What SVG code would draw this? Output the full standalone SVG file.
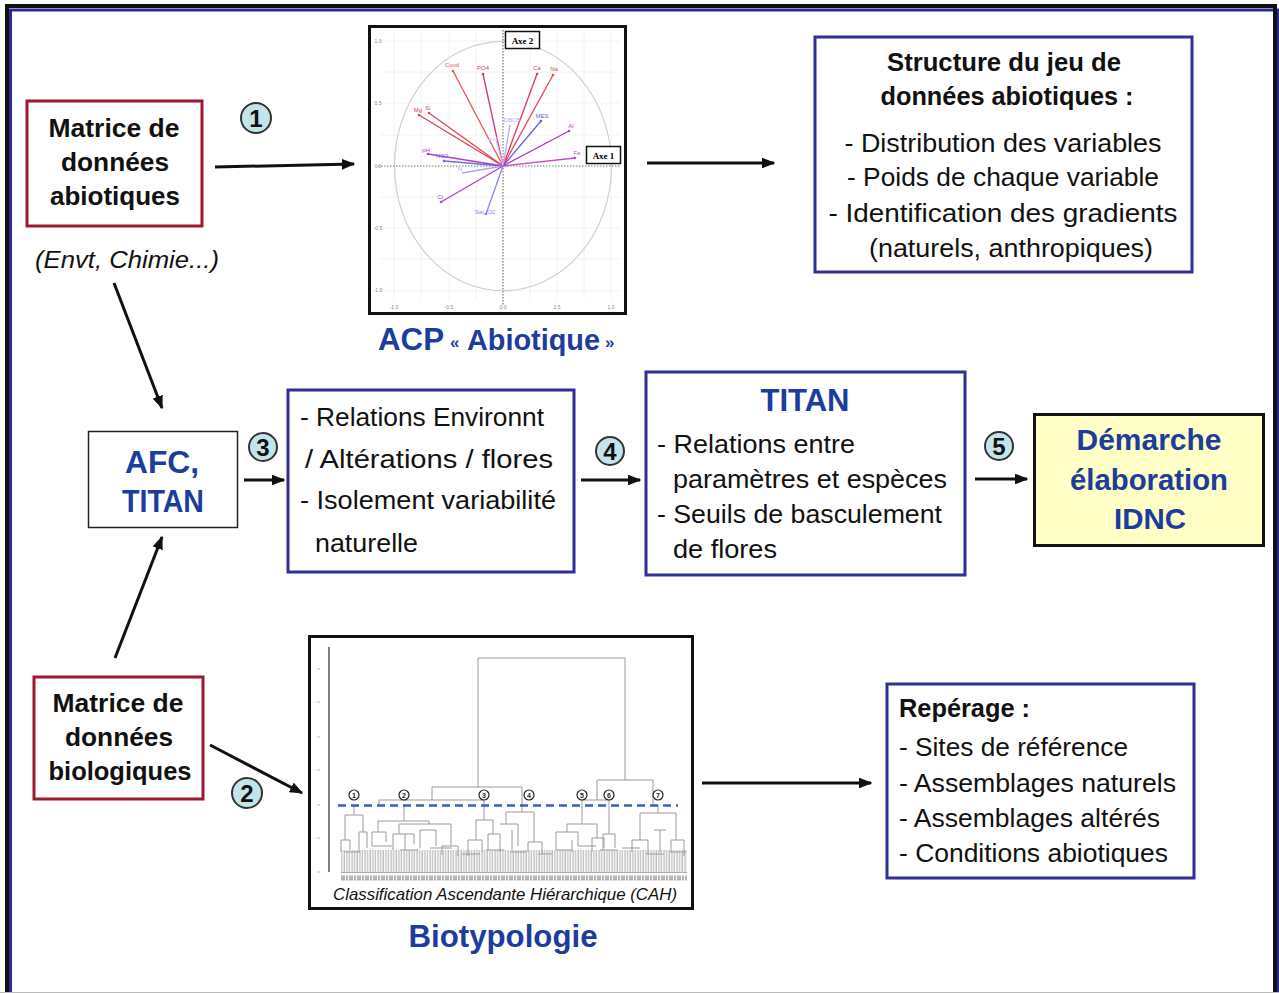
<svg xmlns="http://www.w3.org/2000/svg" width="1279" height="993" viewBox="0 0 1279 993">
<style>
.bt{font-family:"Liberation Sans",Arial,sans-serif;font-weight:bold;fill:#111}
.rt{font-family:"Liberation Sans",Arial,sans-serif;fill:#111}
.bl{font-family:"Liberation Sans",Arial,sans-serif;font-weight:bold;fill:#1C3C9E}
.num{font-family:"Liberation Sans",Arial,sans-serif;font-weight:bold;fill:#111;font-size:24px;text-anchor:middle}
.circ{fill:#C4E4EC;stroke:#333;stroke-width:2}
.redbox{fill:#fff;stroke:#A0182E;stroke-width:3}
.bluebox{fill:#fff;stroke:#2F2F96;stroke-width:3}
.arr{stroke:#111;stroke-width:3;fill:none;marker-end:url(#ah)}
.vec{stroke-width:1.3;fill:none}
.pl{font-family:"Liberation Sans",Arial,sans-serif;font-size:6px}
.tick{font-family:"Liberation Sans",Arial,sans-serif;font-size:5px;fill:#888}
.dg{stroke:#9a9a9a;stroke-width:1;fill:none}
.cn{fill:#fff;stroke:#222;stroke-width:1.2}
.cnt{font-family:"Liberation Sans",Arial,sans-serif;font-weight:bold;font-size:7px;text-anchor:middle;fill:#222}
</style>
<defs>
<marker id="ah" viewBox="0 0 10 8" refX="9" refY="4" markerWidth="4.5" markerHeight="3.6" orient="auto" markerUnits="strokeWidth">
<path d="M0 0 L10 4 L0 8 Z" fill="#111"/>
</marker>
<pattern id="leaf" width="2.6" height="30" patternUnits="userSpaceOnUse">
<line x1="1" y1="0" x2="1" y2="30" stroke="#a0a0a0" stroke-width="0.9"/>
</pattern>
</defs>
<rect x="0" y="0" width="1279" height="993" fill="#fff"/>
<!-- outer frame -->
<rect x="10.5" y="10" width="1267" height="1000" fill="none" stroke="#2B2B8C" stroke-width="3"/>
<rect x="7" y="6" width="1268" height="1000" fill="none" stroke="#111" stroke-width="4"/>
<line x1="0" y1="992.5" x2="1279" y2="992.5" stroke="#bbb" stroke-width="1"/>

<!-- connectors -->
<g id="connectors">
<line class="arr" x1="215" y1="167" x2="354" y2="164"/>
<line class="arr" x1="647" y1="163" x2="774" y2="163"/>
<line class="arr" x1="114" y1="283" x2="162" y2="408"/>
<line class="arr" x1="244" y1="480" x2="284" y2="480"/>
<line class="arr" x1="581" y1="480" x2="640" y2="480"/>
<line class="arr" x1="975" y1="479" x2="1027" y2="479"/>
<line class="arr" x1="115" y1="658" x2="162" y2="537"/>
<line class="arr" x1="210" y1="745" x2="302" y2="793"/>
<line class="arr" x1="702" y1="783" x2="871" y2="783"/>
</g>

<!-- step numbers -->
<g id="step1"><circle class="circ" cx="256" cy="118" r="15"/><text class="num" x="256" y="127">1</text></g>
<g id="step2"><circle class="circ" cx="247" cy="793" r="15"/><text class="num" x="247" y="802">2</text></g>
<g id="step3"><circle class="circ" cx="263" cy="447" r="14"/><text class="num" x="263" y="456">3</text></g>
<g id="step4"><circle class="circ" cx="610" cy="451" r="14"/><text class="num" x="610" y="460">4</text></g>
<g id="step5"><circle class="circ" cx="999" cy="446" r="14"/><text class="num" x="999" y="455">5</text></g>

<!-- Matrice abiotiques -->
<g id="matrice-abio">
<rect class="redbox" x="27" y="101" width="175" height="125"/>
<text class="bt" font-size="25" text-anchor="middle" x="114" y="137" textLength="131" lengthAdjust="spacingAndGlyphs">Matrice de</text>
<text class="bt" font-size="25" text-anchor="middle" x="115" y="171" textLength="108" lengthAdjust="spacingAndGlyphs">données</text>
<text class="bt" font-size="25" text-anchor="middle" x="115" y="205" textLength="130" lengthAdjust="spacingAndGlyphs">abiotiques</text>
</g>
<g id="envt">
<text class="rt" font-size="23" font-style="italic" x="35" y="268" textLength="184" lengthAdjust="spacingAndGlyphs">(Envt, Chimie...)</text>
</g>

<!-- PCA -->
<g id="acp">
<rect x="369.5" y="26.5" width="256" height="287" fill="#fff" stroke="#111" stroke-width="3"/>
<g stroke="#efefef" stroke-width="0.8">
<line x1="394" y1="30" x2="394" y2="300"/><line x1="421" y1="30" x2="421" y2="300"/><line x1="449" y1="30" x2="449" y2="300"/><line x1="476" y1="30" x2="476" y2="300"/><line x1="530" y1="30" x2="530" y2="300"/><line x1="557" y1="30" x2="557" y2="300"/><line x1="584" y1="30" x2="584" y2="300"/><line x1="611" y1="30" x2="611" y2="300"/>
<line x1="380" y1="41" x2="620" y2="41"/><line x1="380" y1="72" x2="620" y2="72"/><line x1="380" y1="103" x2="620" y2="103"/><line x1="380" y1="135" x2="620" y2="135"/><line x1="380" y1="197" x2="620" y2="197"/><line x1="380" y1="228" x2="620" y2="228"/><line x1="380" y1="259" x2="620" y2="259"/><line x1="380" y1="291" x2="620" y2="291"/>
</g>
<ellipse cx="503" cy="166" rx="108.5" ry="124.7" fill="none" stroke="#cfcfcf" stroke-width="1.2"/>
<line x1="503" y1="30" x2="503" y2="305" stroke="#777" stroke-width="1.2" stroke-dasharray="1.5 1.5"/>
<line x1="378" y1="166" x2="621" y2="166" stroke="#777" stroke-width="1.2" stroke-dasharray="1.5 1.5"/>
<text class="tick" x="378" y="43" text-anchor="middle">1.0</text>
<text class="tick" x="378" y="105" text-anchor="middle">0.5</text>
<text class="tick" x="378" y="168" text-anchor="middle">0.0</text>
<text class="tick" x="378" y="230" text-anchor="middle">-0.5</text>
<text class="tick" x="378" y="292" text-anchor="middle">-1.0</text>
<text class="tick" x="394" y="309" text-anchor="middle">-1.0</text>
<text class="tick" x="449" y="309" text-anchor="middle">-0.5</text>
<text class="tick" x="503" y="309" text-anchor="middle">0.0</text>
<text class="tick" x="557" y="309" text-anchor="middle">0.5</text>
<text class="tick" x="611" y="309" text-anchor="middle">1.0</text>
<line class="vec" stroke="#E8564E" x1="503" y1="166" x2="453" y2="71"/>
<line class="vec" stroke="#D8336A" x1="503" y1="166" x2="483" y2="74"/>
<line class="vec" stroke="#E03560" x1="503" y1="166" x2="537" y2="74"/>
<line class="vec" stroke="#E6465A" x1="503" y1="166" x2="553" y2="75"/>
<line class="vec" stroke="#D8404E" x1="503" y1="166" x2="419" y2="115"/>
<line class="vec" stroke="#DC4656" x1="503" y1="166" x2="429" y2="113"/>
<line class="vec" stroke="#A8B0F0" x1="503" y1="166" x2="510" y2="125"/>
<line class="vec" stroke="#6060E0" x1="503" y1="166" x2="541" y2="121"/>
<line class="vec" stroke="#B838C0" x1="503" y1="166" x2="569" y2="131"/>
<line class="vec" stroke="#D0C4F2" x1="503" y1="166" x2="496" y2="140"/>
<line class="vec" stroke="#B040C0" x1="503" y1="166" x2="428" y2="154"/>
<line class="vec" stroke="#7068E0" x1="503" y1="166" x2="444" y2="161"/>
<line class="vec" stroke="#A8A8F0" x1="503" y1="166" x2="462" y2="173"/>
<line class="vec" stroke="#C448C8" x1="503" y1="166" x2="575" y2="158"/>
<line class="vec" stroke="#A444C8" x1="503" y1="166" x2="441" y2="202"/>
<line class="vec" stroke="#8A84EC" x1="503" y1="166" x2="486" y2="214"/>
<g>
<circle cx="453" cy="71" r="1.3" fill="#E8564E"/><circle cx="483" cy="74" r="1.3" fill="#D8336A"/><circle cx="537" cy="74" r="1.3" fill="#E03560"/><circle cx="553" cy="75" r="1.3" fill="#E6465A"/><circle cx="419" cy="115" r="1.3" fill="#D8404E"/><circle cx="429" cy="113" r="1.3" fill="#DC4656"/><circle cx="541" cy="121" r="1.3" fill="#6060E0"/><circle cx="569" cy="131" r="1.3" fill="#B838C0"/><circle cx="428" cy="154" r="1.3" fill="#B040C0"/><circle cx="444" cy="161" r="1.3" fill="#7068E0"/><circle cx="575" cy="158" r="1.3" fill="#C448C8"/><circle cx="441" cy="202" r="1.3" fill="#A444C8"/><circle cx="486" cy="214" r="1.3" fill="#8A84EC"/>
</g>
<text class="pl" fill="#E8564E" x="452" y="67" text-anchor="middle">Cond</text>
<text class="pl" fill="#D8336A" x="483" y="70" text-anchor="middle">PO4</text>
<text class="pl" fill="#E03560" x="537" y="70" text-anchor="middle">Ca</text>
<text class="pl" fill="#E6465A" x="554" y="71" text-anchor="middle">Na</text>
<text class="pl" fill="#D8404E" x="418" y="112" text-anchor="middle">Mg</text>
<text class="pl" fill="#DC4656" x="428" y="110" text-anchor="middle">Si</text>
<text class="pl" fill="#A8B0F0" x="512" y="122" text-anchor="middle">DBO5</text>
<text class="pl" fill="#6060E0" x="542" y="118" text-anchor="middle">MES</text>
<text class="pl" fill="#B838C0" x="571" y="128" text-anchor="middle">Al</text>
<text class="pl" fill="#D0C4F2" x="492" y="141" text-anchor="middle">NH4</text>
<text class="pl" fill="#B040C0" x="426" y="152" text-anchor="middle">pH</text>
<text class="pl" fill="#7068E0" x="442" y="158" text-anchor="middle">NO3</text>
<text class="pl" fill="#A8A8F0" x="460" y="171" text-anchor="middle">N</text>
<text class="pl" fill="#C448C8" x="577" y="155" text-anchor="middle">Fe</text>
<text class="pl" fill="#A444C8" x="440" y="199" text-anchor="middle">Cl</text>
<text class="pl" fill="#8A84EC" x="485" y="214" text-anchor="middle">Sat_O2</text>
<rect x="505.5" y="31.5" width="34" height="17" fill="#fff" stroke="#111" stroke-width="1.5"/>
<text x="522.5" y="43.5" font-family="Liberation Serif,serif" font-weight="bold" font-size="9" text-anchor="middle">Axe 2</text>
<rect x="586.5" y="146.5" width="34" height="17" fill="#fff" stroke="#111" stroke-width="1.5"/>
<text x="603.5" y="158.5" font-family="Liberation Serif,serif" font-weight="bold" font-size="9" text-anchor="middle">Axe 1</text>
<text class="bl" x="378" y="350" font-size="31" textLength="66" lengthAdjust="spacingAndGlyphs">ACP</text>
<text class="bl" x="450" y="348" font-size="17">«</text>
<text class="bl" x="467" y="350" font-size="29" textLength="133" lengthAdjust="spacingAndGlyphs">Abiotique</text>
<text class="bl" x="605" y="348" font-size="17">»</text>
</g>

<!-- Structure -->
<g id="structure">
<rect class="bluebox" x="815" y="37" width="377" height="235"/>
<text class="bt" font-size="26" text-anchor="middle" x="1004" y="71" textLength="234" lengthAdjust="spacingAndGlyphs">Structure du jeu de</text>
<text class="bt" font-size="26" text-anchor="middle" x="1007" y="105" textLength="253" lengthAdjust="spacingAndGlyphs">données abiotiques :</text>
<text class="rt" font-size="25" text-anchor="middle" x="1003" y="152" textLength="317" lengthAdjust="spacingAndGlyphs">- Distribution des variables</text>
<text class="rt" font-size="25" text-anchor="middle" x="1003" y="186" textLength="312" lengthAdjust="spacingAndGlyphs">- Poids de chaque variable</text>
<text class="rt" font-size="25" text-anchor="middle" x="1003" y="222" textLength="349" lengthAdjust="spacingAndGlyphs">- Identification  des gradients</text>
<text class="rt" font-size="25" text-anchor="middle" x="1011" y="257" textLength="284" lengthAdjust="spacingAndGlyphs">(naturels, anthropiques)</text>
</g>

<!-- AFC TITAN -->
<g id="afc">
<rect x="88.5" y="431.5" width="149" height="96" fill="#fff" stroke="#222" stroke-width="1.5"/>
<text class="bl" font-size="31" text-anchor="middle" x="162" y="473" textLength="74" lengthAdjust="spacingAndGlyphs">AFC,</text>
<text class="bl" font-size="31" text-anchor="middle" x="163" y="512" textLength="82" lengthAdjust="spacingAndGlyphs">TITAN</text>
</g>

<!-- Relations -->
<g id="relations">
<rect class="bluebox" x="288" y="390" width="286" height="182"/>
<text class="rt" font-size="25" x="300" y="426" textLength="244" lengthAdjust="spacingAndGlyphs">- Relations  Environnt</text>
<text class="rt" font-size="25" x="305" y="468" textLength="248" lengthAdjust="spacingAndGlyphs">/ Altérations / flores</text>
<text class="rt" font-size="25" x="300" y="509" textLength="256" lengthAdjust="spacingAndGlyphs">- Isolement variabilité</text>
<text class="rt" font-size="25" x="315" y="552" textLength="103" lengthAdjust="spacingAndGlyphs">naturelle</text>
</g>

<!-- TITAN -->
<g id="titan">
<rect class="bluebox" x="646" y="372" width="319" height="203"/>
<text class="bl" font-size="31" text-anchor="middle" x="805" y="411" textLength="89" lengthAdjust="spacingAndGlyphs">TITAN</text>
<text class="rt" font-size="25" x="657" y="453" textLength="198" lengthAdjust="spacingAndGlyphs">- Relations entre</text>
<text class="rt" font-size="25" x="673" y="488" textLength="274" lengthAdjust="spacingAndGlyphs">paramètres et espèces</text>
<text class="rt" font-size="25" x="657" y="523" textLength="285" lengthAdjust="spacingAndGlyphs">- Seuils de basculement</text>
<text class="rt" font-size="25" x="673" y="558" textLength="104" lengthAdjust="spacingAndGlyphs">de flores</text>
</g>

<!-- Demarche -->
<g id="demarche">
<rect x="1034.5" y="414.5" width="229" height="131" fill="#FFFFC6" stroke="#111" stroke-width="3"/>
<text class="bl" font-size="30" text-anchor="middle" x="1149" y="450" textLength="145" lengthAdjust="spacingAndGlyphs">Démarche</text>
<text class="bl" font-size="30" text-anchor="middle" x="1149" y="490" textLength="158" lengthAdjust="spacingAndGlyphs">élaboration</text>
<text class="bl" font-size="30" text-anchor="middle" x="1150" y="529" textLength="72" lengthAdjust="spacingAndGlyphs">IDNC</text>
</g>

<!-- Matrice bio -->
<g id="matrice-bio">
<rect class="redbox" x="34" y="677" width="169" height="122"/>
<text class="bt" font-size="25" text-anchor="middle" x="118" y="712" textLength="131" lengthAdjust="spacingAndGlyphs">Matrice de</text>
<text class="bt" font-size="25" text-anchor="middle" x="119" y="746" textLength="108" lengthAdjust="spacingAndGlyphs">données</text>
<text class="bt" font-size="25" text-anchor="middle" x="120" y="780" textLength="143" lengthAdjust="spacingAndGlyphs">biologiques</text>
</g>

<!-- Dendrogram -->
<g id="cah">
<rect x="309.5" y="636.5" width="383" height="272" fill="#fff" stroke="#111" stroke-width="3"/>
<line x1="329" y1="647" x2="329" y2="872" stroke="#555" stroke-width="1.5"/>
<g stroke="#aaa" stroke-width="0.8">
<line x1="317" y1="669" x2="320" y2="669"/><line x1="317" y1="702" x2="320" y2="702"/><line x1="317" y1="737" x2="320" y2="737"/><line x1="317" y1="770" x2="320" y2="770"/><line x1="317" y1="805" x2="320" y2="805"/><line x1="317" y1="838" x2="320" y2="838"/><line x1="317" y1="872" x2="320" y2="872"/>
</g>
<path class="dg" d="M478 787 V658 H625 V780 M432 800 V787 H522 V805 M597 800 V780 H653 V805 M379 805 V800 H484 V805 M582 805 V800 H609 V805
M354 805 V815 M345 815 H363 M345 815 V840 M363 815 V832 M341 840 H350 M359 832 H367 M341 840 V852 M350 840 V850 M359 832 V852 M367 832 V848
M404 805 V821 M378 821 H429 M378 821 V832 M429 821 V824 M372 832 H386 M399 824 H451 M399 824 V834 M451 824 V846 M393 834 H414 M442 846 H458 M372 832 V846 M386 832 V842 M393 834 V850 M414 834 V844 M442 846 V855 M458 846 V856 M405 834 V850 M420 830 V848 M420 830 H436 M436 830 V846
M484 805 V820 M476 820 H493 M476 820 V840 M493 820 V834 M468 840 H482 M488 834 H500 M468 840 V856 M482 840 V852 M488 834 V850 M500 834 V852
M522 805 V812 M506 812 H534 M506 812 V824 M534 812 V842 M500 824 H518 M528 842 H542 M518 824 V846 M528 842 V852 M542 842 V854 M512 830 V850
M582 805 V824 M567 824 H597 M567 824 V832 M597 824 V838 M556 832 H578 M592 838 H604 M556 832 V850 M578 832 V846 M592 838 V852 M604 838 V848 M572 840 V852
M609 805 V834 M603 834 H615 M603 834 V850 M615 834 V848
M658 805 V813 M640 813 H676 M640 813 V840 M676 813 V840 M632 840 H648 M671 840 H684 M632 840 V852 M648 840 V854 M671 840 V852 M684 840 V856 M660 830 V852 M654 830 H666
M345 852 H360 M372 846 H392 M400 850 H418 M430 848 H452 M462 854 H480 M486 850 H504 M510 852 H526 M538 854 H552 M556 850 H572 M578 846 H596 M600 850 H618 M622 848 H640 M646 854 H664 M670 852 H686"/>
<rect x="341" y="850" width="346" height="22" fill="url(#leaf)"/>
<line x1="341" y1="872.5" x2="687" y2="872.5" stroke="#aaa" stroke-width="1"/>
<line x1="341" y1="878" x2="687" y2="878" stroke="#b4b4b4" stroke-width="5" stroke-dasharray="4 1 2 1"/>
<line x1="338" y1="805.5" x2="678" y2="805.5" stroke="#3A5CC8" stroke-width="2.5" stroke-dasharray="8 5"/>
<g>
<circle class="cn" cx="354" cy="795" r="5"/><text class="cnt" x="354" y="797.5">1</text>
<circle class="cn" cx="404" cy="795" r="5"/><text class="cnt" x="404" y="797.5">2</text>
<circle class="cn" cx="484" cy="795" r="5"/><text class="cnt" x="484" y="797.5">3</text>
<circle class="cn" cx="529" cy="795" r="5"/><text class="cnt" x="529" y="797.5">4</text>
<circle class="cn" cx="582" cy="795" r="5"/><text class="cnt" x="582" y="797.5">5</text>
<circle class="cn" cx="609" cy="795" r="5"/><text class="cnt" x="609" y="797.5">6</text>
<circle class="cn" cx="658" cy="795" r="5"/><text class="cnt" x="658" y="797.5">7</text>
</g>
<text class="rt" font-size="17" font-style="italic" x="333" y="900" textLength="344" lengthAdjust="spacingAndGlyphs">Classification  Ascendante  Hiérarchique  (CAH)</text>
<text class="bl" font-size="31" text-anchor="middle" x="503" y="947" textLength="189" lengthAdjust="spacingAndGlyphs">Biotypologie</text>
</g>

<!-- Reperage -->
<g id="reperage">
<rect class="bluebox" x="887" y="684" width="307" height="194"/>
<text class="bt" font-size="25" x="899" y="717" textLength="131" lengthAdjust="spacingAndGlyphs">Repérage :</text>
<text class="rt" font-size="25" x="899" y="756" textLength="229" lengthAdjust="spacingAndGlyphs">- Sites de référence</text>
<text class="rt" font-size="25" x="899" y="792" textLength="277" lengthAdjust="spacingAndGlyphs">- Assemblages naturels</text>
<text class="rt" font-size="25" x="899" y="827" textLength="261" lengthAdjust="spacingAndGlyphs">- Assemblages altérés</text>
<text class="rt" font-size="25" x="899" y="862" textLength="269" lengthAdjust="spacingAndGlyphs">- Conditions abiotiques</text>
</g>
</svg>
